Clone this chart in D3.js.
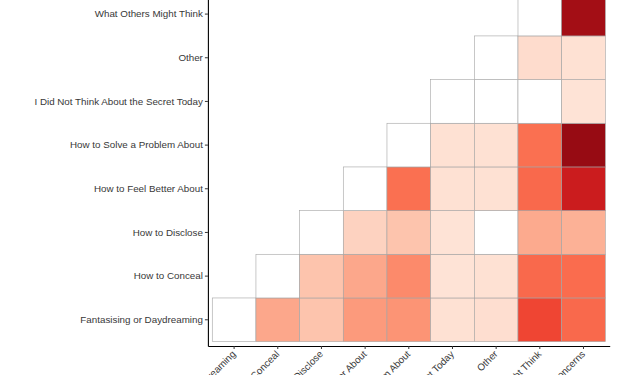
<!DOCTYPE html>
<html>
<head>
<meta charset="utf-8">
<script src="https://cdn.jsdelivr.net/npm/d3@7"></script>
<style>
  body { margin: 0; background: #fff; }
  svg { display: block; }
</style>
</head>
<body>
<div id="chart"></div>
<script>
// categories, bottom row / left column first
const categories = [
  'Fantasising or Daydreaming',
  'How to Conceal',
  'How to Disclose',
  'How to Feel Better About',
  'How to Solve a Problem About',
  'I Did Not Think About the Secret Today',
  'Other',
  'What Others Might Think',
  'Concerns'
];

// one array per row: values for columns from the diagonal to the right edge
const rowFantasising = [0, 0.31, 0.22, 0.35, 0.37, 0.11, 0.12, 0.60, 0.50];
const rowConceal     = [0, 0.22, 0.31, 0.40, 0.10, 0.11, 0.50, 0.49];
const rowDisclose    = [0, 0.17, 0.22, 0.10, 0, 0.30, 0.28];
const rowFeelBetter  = [0, 0.48, 0.11, 0.11, 0.50, 0.75];
const rowSolve       = [0, 0.11, 0.11, 0.48, 0.90];
const rowDidNotThink = [0, 0, 0, 0.10];
const rowOther       = [0, 0.13, 0.11];
const rowOthersThink = [0, 0.87];
const rowConcerns    = [0];

const rows = [rowFantasising, rowConceal, rowDisclose, rowFeelBetter, rowSolve,
              rowDidNotThink, rowOther, rowOthersThink, rowConcerns];

const cells = [];
rows.forEach((vals, r) => {
  vals.forEach((v, i) => {
    cells.push({ row: categories[r], col: categories[r + i], value: v });
  });
});

const width = 634;
const height = 375;

const svg = d3.select('#chart')
  .append('svg')
  .attr('width', width)
  .attr('height', height);

const x = d3.scaleBand()
  .domain(categories)
  .range([207.9, 609.7])
  .paddingInner(0)
  .paddingOuter(0.1);

const y = d3.scaleBand()
  .domain(categories)
  .range([346, -55.8])
  .paddingInner(0)
  .paddingOuter(0.1);

const color = d3.scaleSequential(d3.interpolateReds).domain([0, 1]);

svg.selectAll('.cell')
  .data(cells)
  .enter().append('rect')
  .attr('class', 'cell')
  .attr('x', d => x(d.col))
  .attr('y', d => y(d.row))
  .attr('width', x.bandwidth())
  .attr('height', y.bandwidth())
  .attr('fill', d => d.value === 0 ? '#ffffff' : color(d.value))
  .attr('stroke', '#a3a3a3')
  .attr('stroke-width', 0.6);

// axes
const xAxis = svg.append('g')
  .attr('transform', 'translate(0,346)')
  .call(d3.axisBottom(x).tickSize(3).tickPadding(2).tickSizeOuter(0));

const yAxis = svg.append('g')
  .attr('transform', 'translate(207.9,0)')
  .call(d3.axisLeft(y).tickSize(3).tickPadding(2).tickSizeOuter(0));

[xAxis, yAxis].forEach(g => {
  g.select('.domain').attr('stroke', '#000').attr('stroke-width', 1.1);
  g.selectAll('.tick line').attr('stroke', '#333').attr('stroke-width', 1);
  g.selectAll('.tick text')
    .attr('fill', '#383838')
    .style('font-family', '"Liberation Sans", Arial, sans-serif')
    .style('font-size', '9.8px');
});

xAxis.selectAll('.tick text')
  .attr('text-anchor', 'end')
  .attr('x', 0)
  .attr('y', 0)
  .attr('dy', '0.75em')
  .attr('transform', 'translate(-3,3.5) rotate(-45)');
</script>
</body>
</html>
